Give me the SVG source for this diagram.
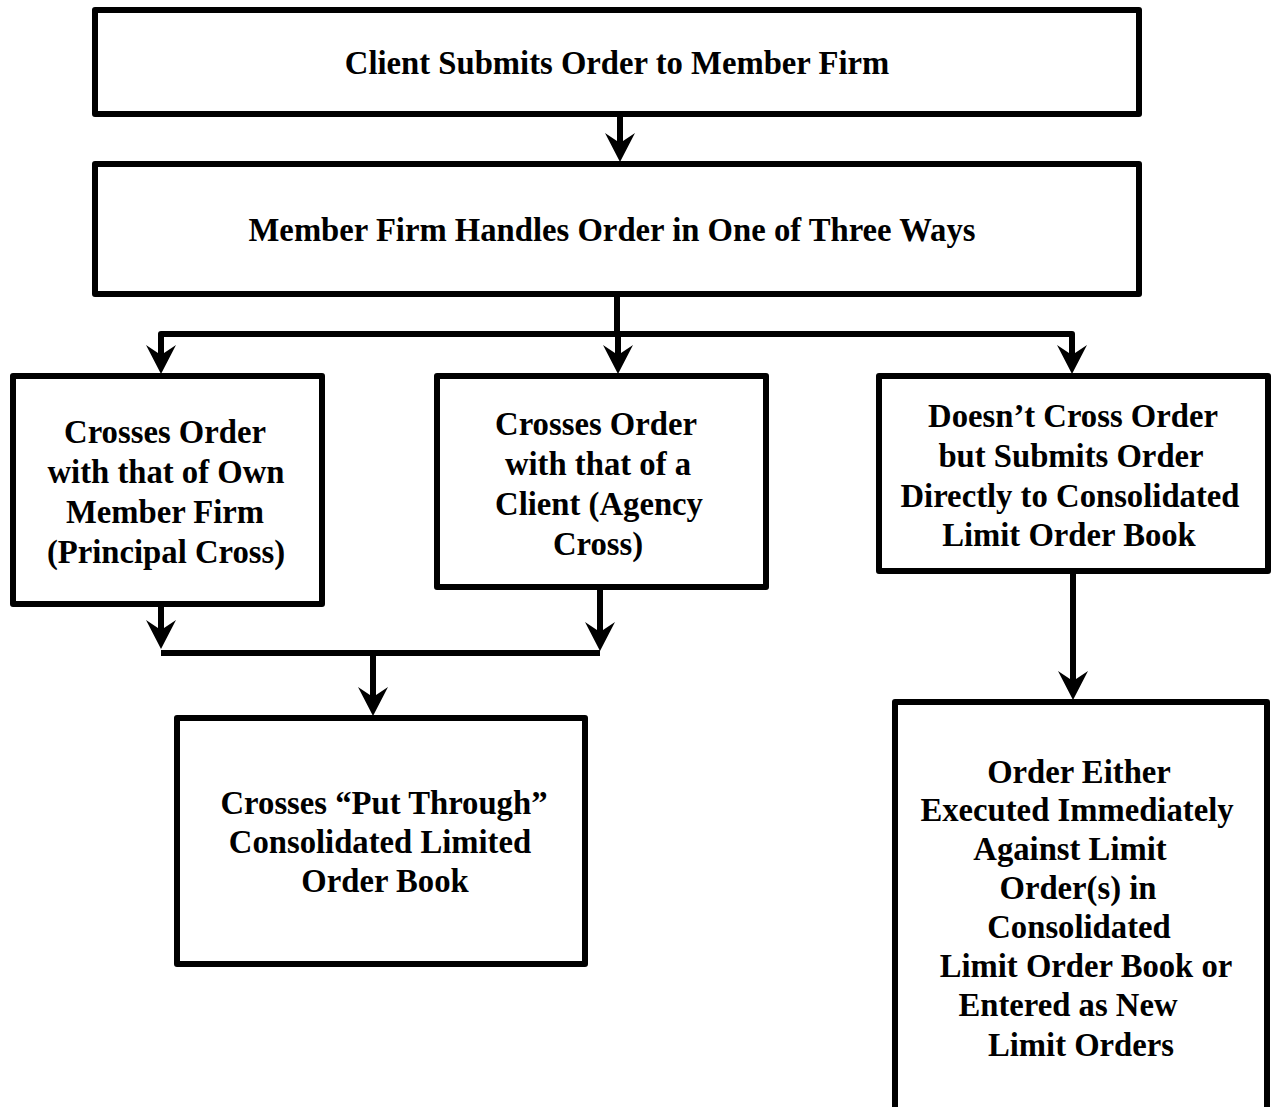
<svg xmlns="http://www.w3.org/2000/svg" xmlns:xlink="http://www.w3.org/1999/xlink" width="1273" height="1107" viewBox="0 0 1273 1107">
<style>
.box{fill:#fff;stroke:#000;stroke-width:6;stroke-linejoin:round}
.ln{fill:none;stroke:#000;stroke-width:6;stroke-linejoin:round}
text{font-family:"Liberation Serif","Times New Roman",serif;font-weight:bold;font-size:32.7px;fill:#000;text-anchor:middle}
</style>
<defs>
<path id="ah" d="M0,0 L-15,-29 L0,-19 L15,-29 Z" fill="#000"/>
</defs>
<rect width="1273" height="1107" fill="#fff"/>
<g id="connectors">
<path class="ln" d="M620,114 V146"/>
<use xlink:href="#ah" x="620" y="162"/>
<path class="ln" d="M617,294 V334 M161,357 V334 H1072 V357 M618,334 V357"/>
<use xlink:href="#ah" x="161" y="374"/>
<use xlink:href="#ah" x="618" y="374"/>
<use xlink:href="#ah" x="1072" y="374"/>
<path class="ln" d="M161,604 V632 M600,587 V634 M161,653 H600 M373,653 V700"/>
<use xlink:href="#ah" x="161" y="649"/>
<use xlink:href="#ah" x="600" y="651"/>
<use xlink:href="#ah" x="373" y="716"/>
<path class="ln" d="M1073,571 V683"/>
<use xlink:href="#ah" x="1073" y="700"/>
</g>
<g id="n1">
<rect class="box" x="95" y="10" width="1044" height="104"/>
<text x="617" y="74">Client Submits Order to Member Firm</text>
</g>
<g id="n2">
<rect class="box" x="95" y="164" width="1044" height="130"/>
<text x="612" y="241">Member Firm Handles Order in One of Three Ways</text>
</g>
<g id="n3">
<rect class="box" x="13" y="376" width="309" height="228"/>
<text x="165" y="443">Crosses Order</text>
<text x="166" y="483">with that of Own</text>
<text x="165" y="523">Member Firm</text>
<text x="166" y="563">(Principal Cross)</text>
</g>
<g id="n4">
<rect class="box" x="437" y="376" width="329" height="211"/>
<text x="596" y="435">Crosses Order</text>
<text x="598" y="475">with that of a</text>
<text x="599" y="515">Client (Agency</text>
<text x="598" y="555">Cross)</text>
</g>
<g id="n5">
<rect class="box" x="879" y="376" width="389" height="195"/>
<text x="1073" y="427">Doesn’t Cross Order</text>
<text x="1071" y="467">but Submits Order</text>
<text x="1070" y="507">Directly to Consolidated</text>
<text x="1069" y="546">Limit Order Book</text>
</g>
<g id="n6">
<rect class="box" x="177" y="718" width="408" height="246"/>
<text x="384" y="814">Crosses “Put Through”</text>
<text x="380" y="853">Consolidated Limited</text>
<text x="385" y="892">Order Book</text>
</g>
<g id="n7">
<path class="ln" d="M895,1115 V702 H1267 V1115"/>
<text x="1079" y="783">Order Either</text>
<text x="1077" y="821">Executed Immediately</text>
<text x="1070" y="860">Against Limit</text>
<text x="1078" y="899">Order(s) in</text>
<text x="1079" y="938">Consolidated</text>
<text x="1086" y="977"> Limit Order Book or</text>
<text x="1068" y="1016">Entered as New</text>
<text x="1081" y="1056">Limit Orders</text>
</g>
</svg>
